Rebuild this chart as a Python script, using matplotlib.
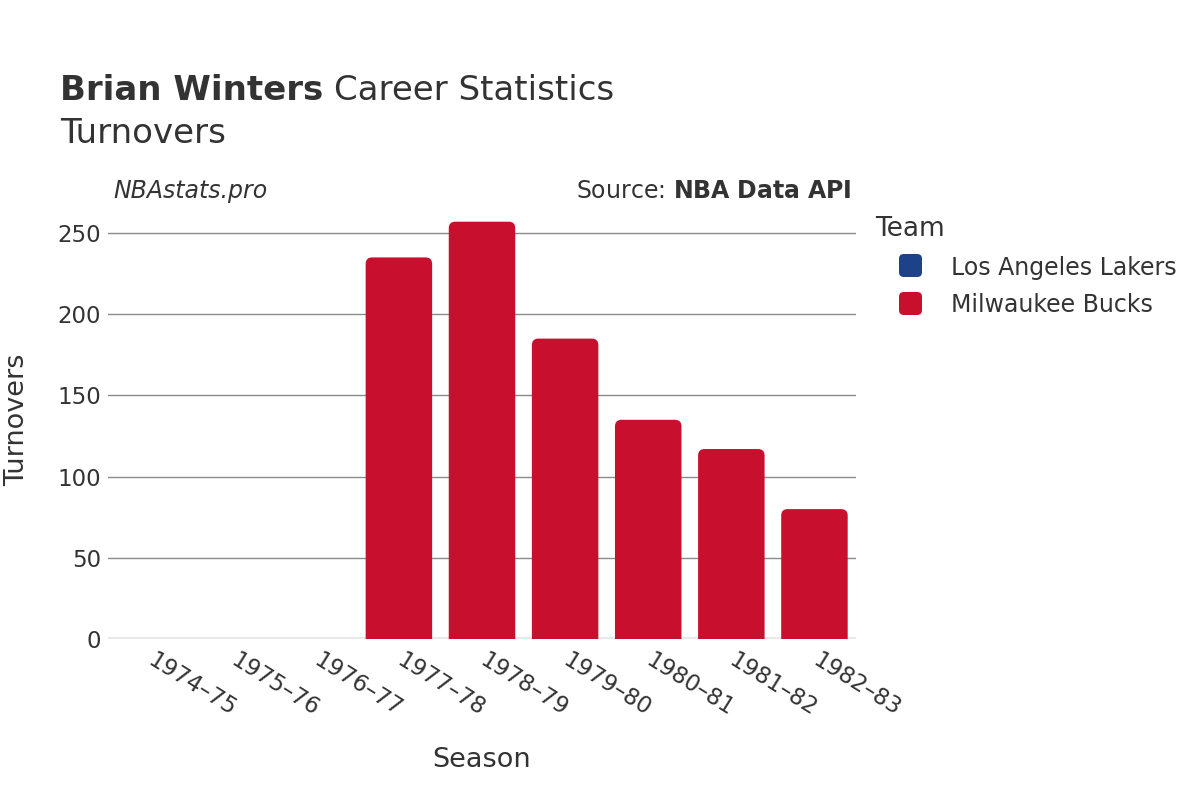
import matplotlib
matplotlib.use("Agg")
import matplotlib.pyplot as plt
from matplotlib.patches import FancyBboxPatch, PathPatch
from matplotlib.path import Path

seasons = ["1974–75", "1975–76", "1976–77", "1977–78", "1978–79",
           "1979–80", "1980–81", "1981–82", "1982–83"]
bucks_tov = [0, 0, 0, 235, 257, 185, 135, 117, 80]
lakers_tov = [0, 0, 0, 0, 0, 0, 0, 0, 0]
teams = ["Los Angeles Lakers", "Milwaukee Bucks"]
team_colors = ["#1D428A", "#C8102E"]
yticks = [0, 50, 100, 150, 200, 250]

TXT = "#333333"
plt.rcParams['font.family'] = ['DejaVu Sans']

W, H = 1200, 800
fig = plt.figure(figsize=(12, 8), dpi=100)
ax_l, ax_b, ax_w, ax_h = 108 / W, 1 - 639 / H, 748 / W, 429 / H
ax = fig.add_axes([ax_l, ax_b, ax_w, ax_h])
ymax = 264.2
ax.set_xlim(-0.5, len(seasons) - 0.5)
ax.set_ylim(0, ymax)

px_per_x = ax_w * W / len(seasons)
px_per_y = ax_h * H / ymax
r_px = 6.5
bw = 0.8


def top_rounded(x0, w, h, rx, ry):
    ry = min(ry, h)
    verts = [(x0, 0), (x0, h - ry), (x0, h), (x0 + rx, h),
             (x0 + w - rx, h), (x0 + w, h), (x0 + w, h - ry),
             (x0 + w, 0), (x0, 0)]
    codes = [Path.MOVETO, Path.LINETO, Path.CURVE3, Path.CURVE3,
             Path.LINETO, Path.CURVE3, Path.CURVE3, Path.LINETO,
             Path.CLOSEPOLY]
    return Path(verts, codes)


for series, col in zip([lakers_tov, bucks_tov], team_colors):
    for i, v in enumerate(series):
        if v <= 0:
            continue
        path = top_rounded(i - bw / 2, bw, v, r_px / px_per_x, r_px / px_per_y)
        ax.add_patch(PathPatch(path, facecolor=col, edgecolor="none", zorder=3))

for t in yticks[1:]:
    ax.axhline(t, color="#8a8a8a", lw=1.0, zorder=1)
ax.axhline(0, color="#e8e8e8", lw=3, zorder=2)

ax.set_yticks(yticks)
ax.set_yticklabels([str(t) for t in yticks], fontsize=16.5, color=TXT)
ax.set_xticks(range(len(seasons)))
ax.set_xticklabels(seasons, rotation=-32, ha="left", va="center",
                   rotation_mode="anchor", fontsize=16.5, color=TXT)
ax.tick_params(axis="both", length=0)
ax.tick_params(axis="y", pad=5)
ax.tick_params(axis="x", pad=14)
for lab in ax.get_xticklabels():
    lab.set_x(lab.get_position()[0])
for s in ax.spines.values():
    s.set_visible(False)

fig.text(482 / W, 1 - 760 / H, "Season", fontsize=19.5, color=TXT,
         va="center", ha="center")
fig.text(17 / W, 1 - 420 / H, "Turnovers", fontsize=19.5, color=TXT,
         va="center", ha="center", rotation=90)

# titles
fig.text(60 / W, 1 - 100 / H, "Brian Winters", fontsize=24.5, fontweight="bold",
         color=TXT, va="baseline", ha="left")
fig.text(334 / W, 1 - 100 / H, "Career Statistics", fontsize=24.5,
         color=TXT, va="baseline", ha="left")
fig.text(60 / W, 1 - 143 / H, "Turnovers", fontsize=24.5,
         color=TXT, va="baseline", ha="left")

fig.text(113 / W, 1 - 198 / H, "NBAstats.pro", fontsize=17, style="italic",
         color=TXT, va="baseline", ha="left")
fig.text(852 / W, 1 - 198 / H, r"Source: $\bf{NBA\ Data\ API}$", fontsize=17,
         color=TXT, va="baseline", ha="right")

# legend
fig.text(875 / W, 1 - 236 / H, "Team", fontsize=19, color=TXT,
         va="baseline", ha="left")
for k, (name, col) in enumerate(zip(teams, team_colors)):
    yc = 265.5 + k * 38
    sz = 23
    fig.patches.append(FancyBboxPatch((899 / W, 1 - (yc + sz / 2) / H),
                                      sz / W, sz / H,
                                      boxstyle="round,pad=0,rounding_size=0.004",
                                      mutation_aspect=1.5,
                                      transform=fig.transFigure,
                                      facecolor=col, edgecolor="none"))
    fig.text(951 / W, 1 - (yc + 9) / H, name, fontsize=17, color=TXT,
             va="baseline", ha="left")

fig.savefig("out.png", dpi=100, facecolor="white")
